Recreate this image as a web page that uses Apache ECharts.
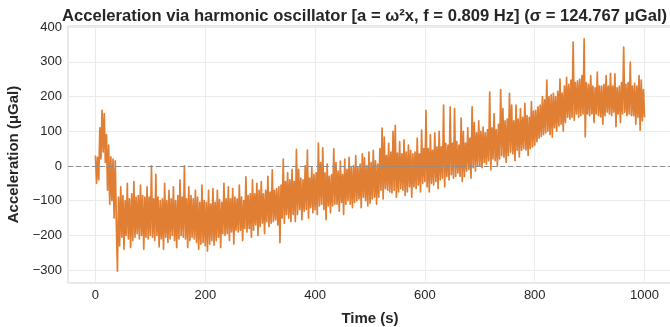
<!DOCTYPE html>
<html>
<head>
<meta charset="utf-8">
<script src="https://cdn.jsdelivr.net/npm/echarts@6/dist/echarts.min.js"></script>
<style>
  html, body { margin: 0; padding: 0; background: #fff; }
  #chart { width: 670px; height: 327px; }
</style>
</head>
<body>
<div id="chart"></div>
<script>
// sample spacing of the record (s)
const timeStep = 2

// acceleration readings (µGal), one every 2 s from t = 0
// each row covers 20 s
const accel = [
  30, -50, 25, -40, 110, 20, 160, 40, 150, 10,
  90, -70, 60, -110, 26, -100, 20, -150, 15, -160,
  -303, -90, -230, -60, -205, -85, -240, -100, -200, -50,
  -210, -95, -235, -80, -215, -45, -205, -90, -195, -85,
  -210, -55, -200, -85, -240, -90, -205, -60, -210, -90,
  -200, 0, -205, -95, -215, -24, -200, -90, -233, -100,
  -210, -95, -240, -50, -205, -100, -220, -70, -210, -95,
  -200, -60, -215, -100, -235, -85, -210, -40, -200, -90,
  -205, 0, -210, -95, -235, -60, -215, -85, -205, -95,
  -210, -70, -220, -90, -240, -105, -225, -55, -220, -100,
  -230, -105, -245, -70, -225, -110, -215, -65, -228, -105,
  -215, -70, -205, -97, -235, -105, -195, -50, -200, -95,
  -195, -60, -215, -95, -190, -65, -225, -90, -185, -95,
  -190, -55, -185, -90, -215, -100, -180, -31, -190, -85,
  -180, -80, -205, -40, -185, -80, -170, -50, -200, -70,
  -175, -45, -165, -80, -195, -70, -160, -30, -175, -75,
  -165, -11, -160, -70, -155, -65, -170, -60, -221, -55,
  -150, 20, -165, -45, -140, -20, -150, -40, -160, -10,
  -140, -45, -160, 48, -140, -10, -125, -35, -155, -40,
  -130, 0, -125, 46, -150, -35, -120, -5, -135, -25,
  -126, -20, -140, 66, -115, 10, -110, 52, -125, -20,
  -155, 5, -115, -30, -135, -25, -115, 49, -110, 10,
  -110, -15, -130, 14, -105, -25, -140, 20, -110, -10,
  -100, 25, -110, -5, -120, 0, -105, 30, -100, -5,
  -95, 5, -120, 35, -90, 23, -100, 0, -115, 40,
  -107, 10, -95, 45, -90, 15, -110, 5, -90, 50,
  -70, 109, -95, 83, -65, 30, -70, 65, -75, 40,
  -78, 100, -70, 117, -90, 37, -75, 70, -65, 35,
  -70, 75, -85, 40, -75, 60, -60, 45, -90, 35,
  -60, 40, -65, 80, -55, 35, -75, 103, -50, 50,
  -45, 160, -60, 50, -75, 90, -50, 45, -55, 95,
  -45, 55, -65, 100, -40, 55, -35, 175, -60, 65,
  -30, 60, -40, 170, -25, 65, -35, 165, -30, 70,
  -20, 60, -30, 138, -45, 100, -31, 66, -15, 110,
  -10, 80, -35, 170, -5, 125, -15, 95, 0, 130,
  0, 100, -5, 112, 10, 95, 5, 105, 15, 213,
  -11, 110, 20, 150, 15, 105, 0, 120, 20, 220,
  30, 165, 25, 130, 10, 135, 30, 209, 40, 175,
  35, 130, 15, 175, 45, 135, 26, 165, 45, 140,
  50, 180, 46, 145, 30, 140, 50, 185, 55, 158,
  60, 160, 70, 170, 80, 175, 85, 200, 90, 190,
  95, 247, 100, 200, 90, 205, 83, 209, 110, 200,
  100, 215, 115, 250, 120, 210, 100, 230, 125, 255,
  140, 235, 135, 247, 140, 357, 132, 240, 150, 245,
  140, 250, 145, 260, 150, 366, 84, 240, 150, 235,
  145, 260, 150, 230, 125, 225, 150, 270, 145, 230,
  141, 230, 120, 235, 145, 260, 155, 230, 150, 267,
  145, 230, 155, 265, 113, 225, 150, 230, 125, 240,
  150, 342, 155, 235, 145, 240, 150, 299, 145, 230,
  145, 238, 120, 230, 140, 260, 103, 247, 130, 220,
  140
]

const titleText = 'Acceleration via harmonic oscillator [a = ω²x, f = 0.809 Hz] (σ = 124.767 μGal)'

const points = accel.map((v, i) => [i * timeStep, v])

const chart = echarts.init(document.getElementById('chart'))

const textColor = '#262626'
const fontFamily = '"Liberation Sans", Arial, sans-serif'

chart.setOption({
  animation: false,
  title: {
    text: titleText,
    left: 57,
    top: 3,
    textStyle: {
      fontFamily,
      fontSize: 16.6,
      fontWeight: 'bold',
      color: textColor,
    },
  },
  grid: {
    left: 68,
    top: 26,
    width: 604,
    height: 257,
    outerBoundsMode: 'none',
    containLabel: false,
    show: true,
    borderColor: '#cfcfcf',
    borderWidth: 1,
  },
  xAxis: {
    type: 'value',
    min: -50,
    max: 1050,
    splitNumber: 5,
    name: 'Time (s)',
    nameLocation: 'middle',
    nameGap: 28,
    nameTextStyle: { fontFamily, fontSize: 15, fontWeight: 'bold', color: textColor },
    axisLine: { show: false },
    axisTick: { show: false },
    axisLabel: {
      fontFamily,
      fontSize: 13,
      color: textColor,
      margin: 6,
      showMinLabel: false,
      showMaxLabel: false,
      formatter: (v) => String(v),
    },
    splitLine: { show: true, lineStyle: { color: '#ebebeb', width: 1 } },
  },
  yAxis: {
    type: 'value',
    min: -337,
    max: 403,
    splitNumber: 7,
    name: 'Acceleration (μGal)',
    nameLocation: 'middle',
    nameGap: 46,
    nameTextStyle: { fontFamily, fontSize: 15, fontWeight: 'bold', color: textColor },
    axisLine: { show: false },
    axisTick: { show: false },
    axisLabel: {
      fontFamily,
      fontSize: 13,
      color: textColor,
      margin: 6,
      showMinLabel: false,
      showMaxLabel: false,
      formatter: (v) => (v < 0 ? '\u2212' + Math.abs(v) : String(v)),
    },
    splitLine: { show: true, lineStyle: { color: '#ebebeb', width: 1 } },
  },
  series: [
    {
      type: 'line',
      data: points,
      showSymbol: false,
      symbol: 'none',
      sampling: null,
      lineStyle: { color: '#e07e34', width: 1.7, join: 'round' },
      markLine: {
        silent: true,
        symbol: 'none',
        label: { show: false },
        lineStyle: { color: '#8c8c8c', type: [5, 3], width: 1 },
        data: [{ yAxis: 0 }],
      },
    },
  ],
})
</script>
</body>
</html>
